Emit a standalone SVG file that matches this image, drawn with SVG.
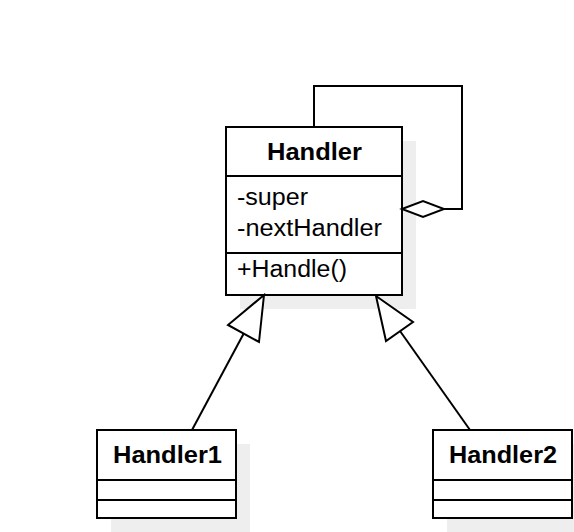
<svg xmlns="http://www.w3.org/2000/svg" width="574" height="532" viewBox="0 0 574 532">
<style>
.box{fill:#ffffff;stroke:#000000;stroke-width:2}
.shadow{fill:#eeeeee;stroke:none}
.div{stroke:#000000;stroke-width:2}
.title{font-family:"Liberation Sans",Arial,sans-serif;font-weight:bold;font-size:23px;fill:#000}
.attr{font-family:"Liberation Sans",Arial,sans-serif;font-size:23px;fill:#000}
.edge{fill:none;stroke:#000000;stroke-width:2}
.head{fill:#ffffff;stroke:#000000;stroke-width:2;stroke-linejoin:miter}
</style>
<rect width="574" height="532" fill="#ffffff"/>
<g id="shadows">
<rect class="shadow" x="240" y="141" width="176" height="168"/>
<rect class="shadow" x="111" y="444" width="139" height="88"/>
<rect class="shadow" x="447" y="444" width="127" height="88"/>
</g>
<g id="Handler">
<rect class="box" x="226" y="127" width="176" height="168"/>
<line class="div" x1="226" y1="176" x2="402" y2="176"/>
<line class="div" x1="226" y1="253" x2="402" y2="253"/>
<text class="title" x="314.5" y="160" text-anchor="middle" textLength="95" lengthAdjust="spacingAndGlyphs">Handler</text>
<text class="attr" x="237" y="205" textLength="71" lengthAdjust="spacingAndGlyphs">-super</text>
<text class="attr" x="237" y="236" textLength="145" lengthAdjust="spacingAndGlyphs">-nextHandler</text>
<text class="attr" x="237" y="277" textLength="110" lengthAdjust="spacingAndGlyphs">+Handle()</text>
</g>
<g id="Handler1">
<rect class="box" x="97" y="430" width="139" height="88"/>
<line class="div" x1="97" y1="480" x2="236" y2="480"/>
<line class="div" x1="97" y1="500" x2="236" y2="500"/>
<text class="title" x="167.5" y="463" text-anchor="middle" textLength="109" lengthAdjust="spacingAndGlyphs">Handler1</text>
</g>
<g id="Handler2">
<rect class="box" x="433" y="430" width="139" height="88"/>
<line class="div" x1="433" y1="480" x2="572" y2="480"/>
<line class="div" x1="433" y1="500" x2="572" y2="500"/>
<text class="title" x="503" y="463" text-anchor="middle" textLength="108" lengthAdjust="spacingAndGlyphs">Handler2</text>
</g>
<g id="connectors">
<polyline class="edge" points="314,127 314,86 462,86 462,209 444,209"/>
<polygon class="head" points="402,209 423,201 444,209 423,217"/>
<line class="edge" x1="192" y1="430" x2="244" y2="333"/>
<polygon class="head" points="264,295 259,342 228,325"/>
<line class="edge" x1="470" y1="430" x2="400" y2="331"/>
<polygon class="head" points="376,296 413,322 386,341"/>
</g>
</svg>
